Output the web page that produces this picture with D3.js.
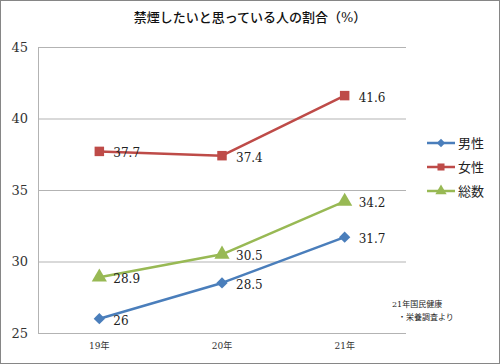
<!DOCTYPE html>
<html>
<head>
<meta charset="utf-8">
<script src="https://cdn.jsdelivr.net/npm/d3@7"></script>
<style>
body { margin: 0; background: #fff; }
text { font-family: "DejaVu Serif", "Liberation Serif", "Noto Sans CJK JP", serif; }
</style>
</head>
<body>
<svg width="500" height="364"></svg>
<script>
var categories = ["19年", "20年", "21年"];
var seriesNames = ["男性", "女性", "総数"];
var male = [26, 28.5, 31.7];
var female = [37.7, 37.4, 41.6];
var total = [28.9, 30.5, 34.2];
var yTicks = [25, 30, 35, 40, 45];

var svg = d3.select("svg"),
    margin = {top: 47, right: 94, bottom: 31, left: 38},
    width = +svg.attr("width") - margin.left - margin.right,
    height = +svg.attr("height") - margin.top - margin.bottom;

svg.append("rect")
    .attr("x", 0.5).attr("y", 0.5)
    .attr("width", 499).attr("height", 363)
    .attr("fill", "#fff")
    .attr("stroke", "#868686");

svg.append("text")
    .attr("x", 250).attr("y", 22)
    .attr("text-anchor", "middle")
    .attr("font-size", 13)
    .attr("font-weight", 500)
    .attr("fill", "#111")
    .text("禁煙したいと思っている人の割合（%）");

var g = svg.append("g").attr("transform", "translate(" + margin.left + "," + margin.top + ")");

var x = d3.scaleBand().domain(categories).range([0, width]);
var y = d3.scaleLinear().domain([25, 45]).range([height, 0]);

// gridlines
g.append("g")
    .selectAll("line")
    .data(yTicks)
    .enter().append("line")
    .attr("x1", 0).attr("x2", width)
    .attr("y1", function (d) { return y(d) + 0.5; })
    .attr("y2", function (d) { return y(d) + 0.5; })
    .attr("stroke", "#b3b3b3");

g.append("line")
    .attr("x1", 0.5).attr("x2", 0.5)
    .attr("y1", 0).attr("y2", height)
    .attr("stroke", "#b3b3b3");

// y axis labels
g.append("g")
    .call(d3.axisLeft(y).tickValues(yTicks).tickSize(0).tickPadding(10))
    .call(function (a) { a.select(".domain").remove(); })
    .selectAll("text")
    .attr("font-size", 13)
    .attr("fill", "#333")
    .attr("font-family", "DejaVu Serif, serif");

// x axis labels
g.append("g")
    .attr("transform", "translate(0," + height + ")")
    .call(d3.axisBottom(x).tickSize(0).tickPadding(10))
    .call(function (a) { a.select(".domain").remove(); })
    .selectAll("text")
    .attr("font-size", 9)
    .attr("fill", "#333");

var series = [
    {name: seriesNames[0], values: male, color: "#4a7ebb", symbol: d3.symbolSquare, rot: 45, size: 64},
    {name: seriesNames[1], values: female, color: "#be4b48", symbol: d3.symbolSquare, rot: 0, size: 90},
    {name: seriesNames[2], values: total, color: "#98b954", symbol: d3.symbolTriangle, rot: 0, size: 100}
];

var line = d3.line()
    .x(function (d, i) { return x(categories[i]) + x.bandwidth() / 2; })
    .y(function (d) { return y(d); });

series.forEach(function (s) {
    g.append("path")
        .datum(s.values)
        .attr("fill", "none")
        .attr("stroke", s.color)
        .attr("stroke-width", 2.5)
        .attr("stroke-linejoin", "round")
        .attr("d", line);

    g.selectAll(null)
        .data(s.values)
        .enter().append("path")
        .attr("transform", function (d, i) {
            return "translate(" + (x(categories[i]) + x.bandwidth() / 2) + "," + y(d) + ") rotate(" + s.rot + ")";
        })
        .attr("d", d3.symbol().type(s.symbol).size(s.size))
        .attr("fill", s.color);

    g.selectAll(null)
        .data(s.values)
        .enter().append("text")
        .attr("x", function (d, i) { return x(categories[i]) + x.bandwidth() / 2 + 14; })
        .attr("y", function (d) { return y(d) + 6; })
        .attr("font-size", 12)
        .attr("fill", "#222")
        .attr("font-family", "DejaVu Serif, serif")
        .text(function (d) { return d; });
});

// legend
var legend = svg.append("g").attr("transform", "translate(427,143)");
series.forEach(function (s, i) {
    var row = legend.append("g").attr("transform", "translate(0," + (i * 24) + ")");
    row.append("line")
        .attr("x1", 0).attr("x2", 28)
        .attr("y1", 0).attr("y2", 0)
        .attr("stroke", s.color)
        .attr("stroke-width", 2.5);
    row.append("path")
        .attr("transform", "translate(14,0) rotate(" + s.rot + ")")
        .attr("d", d3.symbol().type(s.symbol).size(s.size * 0.55))
        .attr("fill", s.color);
    row.append("text")
        .attr("x", 31).attr("y", 5)
        .attr("font-size", 13)
        .attr("fill", "#222")
        .text(s.name);
});

// source note
svg.append("text")
    .attr("x", 392).attr("y", 307)
    .attr("font-size", 8)
    .attr("fill", "#222")
    .text("21年国民健康");
svg.append("text")
    .attr("x", 398).attr("y", 320)
    .attr("font-size", 8)
    .attr("fill", "#222")
    .text("・栄養調査より");
</script>
</body>
</html>
